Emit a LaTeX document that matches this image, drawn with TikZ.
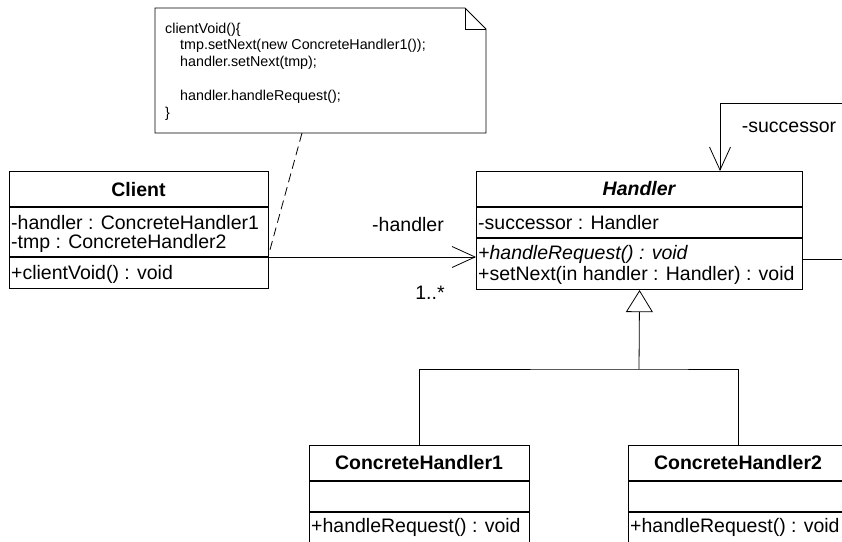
\documentclass[tikz,border=0pt]{standalone}
\usepackage{fontspec}
\setmainfont{Liberation Sans}
\usetikzlibrary{arrows.meta}

\tikzset{
  classbox/.style={draw, line width=1.1pt, anchor=north west, inner sep=0pt},
  member/.style={anchor=base west, inner sep=0pt, font=\fontsize{19.5}{20.5}\selectfont},
  classname/.style={anchor=base, inner sep=0pt, font=\fontsize{19.5}{20.5}\selectfont\bfseries},
  rolelabel/.style={anchor=base, inner sep=0pt, font=\fontsize{19.5}{20.5}\selectfont},
  link/.style={line width=0.8pt},
  assoc/.style={link, -{Straight Barb[length=23pt,width=21pt]}},
  generalize/.style={link, -{Triangle[open,length=22pt,width=27pt]}},
}

\begin{document}
\begin{tikzpicture}[x=1pt,y=-1pt]
% Page area, everything outside is cut away
\clip (0,0) rectangle (842,541);

% Note with the folded corner
\draw[link] (155,8) -- (465,8) -- (486,29) -- (486,133) -- (155,133) -- cycle;
\draw[link] (465,8) -- (465,29) -- (486,29);
\node[anchor=north west, inner sep=0pt, align=left, font=\fontsize{14.3}{16.8}\selectfont] (notetext) at (165,22.5) {clientVoid()\{\\
\hspace*{15pt}tmp.setNext(new ConcreteHandler1());\\
\hspace*{15pt}handler.setNext(tmp);\\[16.8pt]
\hspace*{15pt}handler.handleRequest();\\
\}};
\coordinate (notefoot) at (302,133);

% Client
\node[classbox, minimum width=259pt, minimum height=117pt] (client) at (9,171) {};
\draw[line width=1.1pt] (9,207) -- (268,207) (9,257) -- (268,257);
\node[classname] (clientname) at (138.5,196) {Client};
\node[member] (clientattr1) at (11,229) {-handler : ConcreteHandler1};
\node[member] (clientattr2) at (11,248) {-tmp : ConcreteHandler2};
\node[member] (clientop) at (11,279) {+clientVoid() : void};

% Handler
\node[classbox, minimum width=326pt, minimum height=118pt] (handler) at (476,171) {};
\draw[line width=1.1pt] (476,207) -- (802,207) (476,238) -- (802,238);
\node[classname, font=\fontsize{19.5}{20.5}\selectfont\bfseries\itshape] (handlername) at (639,195) {Handler};
\node[member] (handlerattr) at (478,229) {-successor : Handler};
\node[member, font=\fontsize{19.5}{20.5}\selectfont\itshape] (handlerop1) at (478,259) {+handleRequest() : void};
\node[member] (handlerop2) at (478,280) {+setNext(in handler : Handler) : void};

% ConcreteHandler1
\node[classbox, minimum width=220pt, minimum height=98pt] (ch1) at (309,445) {};
\draw[line width=1.1pt] (309,481) -- (529,481) (309,512) -- (529,512);
\node[classname] (ch1name) at (419,469) {ConcreteHandler1};
\node[member] (ch1op) at (311,532) {+handleRequest() : void};

% ConcreteHandler2
\node[classbox, minimum width=220pt, minimum height=98pt] (ch2) at (628,445) {};
\draw[line width=1.1pt] (628,481) -- (848,481) (628,512) -- (848,512);
\node[classname] (ch2name) at (738,469) {ConcreteHandler2};
\node[member] (ch2op) at (630,532) {+handleRequest() : void};

% Client -> Handler
\coordinate (clientlink) at (268,257);
\draw[assoc] (clientlink) -- (handler.west |- clientlink);
\node[rolelabel] (handlerrole) at (408,231) {-handler};
\node[rolelabel] (handlermult) at (430,299) {1..*};
\draw[link, dash pattern=on 9pt off 5pt] (notefoot) -- (clientlink);

% successor link back into Handler
\coordinate (selfout) at (802,259);
\coordinate (selfin) at (720,171);
\draw[assoc] (selfout) -- (860,259) -- (860,103) -| (selfin);
\node[rolelabel] (successorrole) at (789,132) {-successor};

% inheritance
\coordinate (fork) at (639,369);
\draw[link] (ch1.north) |- (fork) -| (ch2.north);
\draw[generalize] (fork) -- (handler.south);
\end{tikzpicture}
\end{document}
